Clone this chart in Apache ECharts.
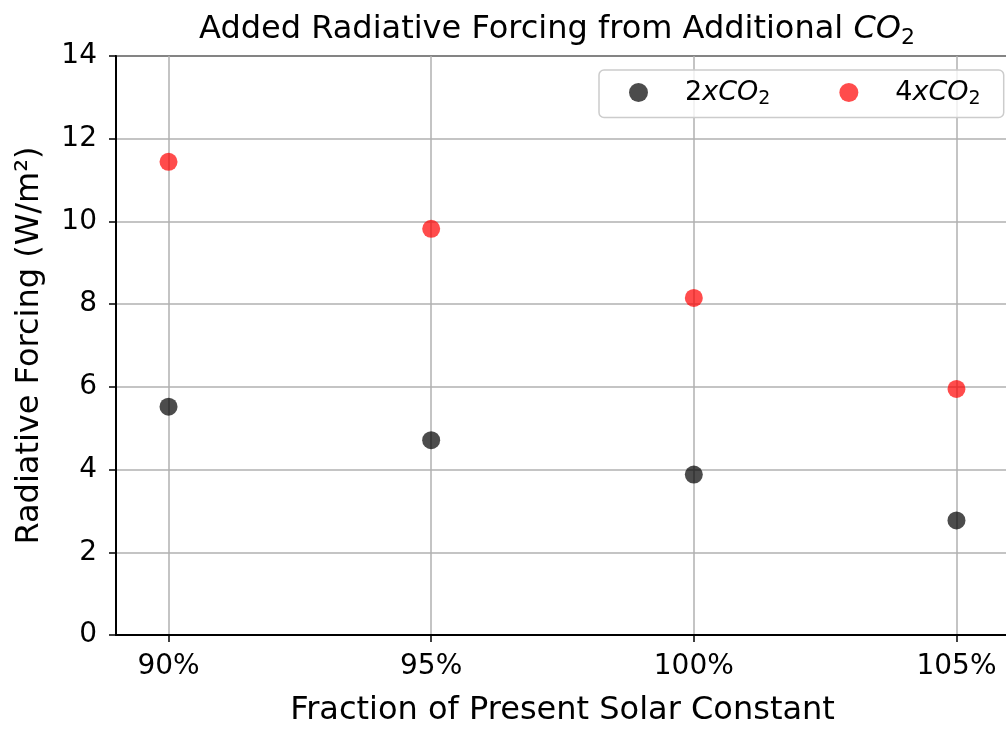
<!DOCTYPE html>
<html><head><meta charset="utf-8">
<script src="https://cdn.jsdelivr.net/npm/echarts@6/dist/echarts.min.js"></script>
<style>html,body{margin:0;padding:0;background:#fff}#c{width:1006px;height:730px}</style>
</head><body><div id="c"></div>
<script>
const solarFractions = [90, 95, 100, 105];
const forcing2x = [5.52, 4.71, 3.88, 2.77];
const forcing4x = [11.44, 9.82, 8.15, 5.95];
const yTicks = [0, 2, 4, 6, 8, 10, 12, 14];

const FONT = 'DejaVu Sans';
const chart = echarts.init(document.getElementById('c'));
chart.setOption({
  animation: false,
  title: {
    text: '{n|Added Radiative Forcing from Additional }{i|CO}{s|2}',
    left: 552, top: 6, textAlign: 'center',
    textStyle: {fontWeight: 'normal', rich: {
      n: {fontFamily: FONT, fontSize: 32, color: '#000'},
      i: {fontFamily: FONT, fontSize: 32, fontStyle: 'italic', color: '#000'},
      s: {fontFamily: FONT, fontSize: 22, color: '#000', padding: [16,0,0,0]}
    }}
  },
  legend: {
    orient: 'horizontal',
    left: 599, top: 70, width: 600,
    padding: [9, 23, 9, 30],
    itemGap: 69,
    itemWidth: 19, itemHeight: 19,
    backgroundColor: 'rgba(255,255,255,0.8)',
    borderColor: '#cccccc', borderWidth: 1.5, borderRadius: 5,
    icon: 'circle',
    formatter: function(name){ return '{n|' + name.charAt(0) + '}{i|xCO}{s|2}'; },
    textStyle: {padding: [0,0,0,32], rich: {
      n: {fontFamily: FONT, fontSize: 27, color: '#000'},
      i: {fontFamily: FONT, fontSize: 27, fontStyle: 'italic', color: '#000'},
      s: {fontFamily: FONT, fontSize: 19, color: '#000', padding: [13,0,0,0]}
    }}
  },
  grid: {left: 116, right: -3, top: 56, bottom: 95, outerBoundsMode: 'none', containLabel: false,
         show: true, borderColor: '#000', borderWidth: 2, backgroundColor: 'transparent'},
  xAxis: {
    type: 'value', min: 89, max: 106, interval: 5,
    name: 'Fraction of Present Solar Constant', nameLocation: 'middle', nameGap: 60,
    nameMoveOverlap: false,
    nameTextStyle: {fontFamily: FONT, fontSize: 32, color: '#000'},
    axisLine: {show: true, lineStyle: {color: '#000', width: 2}},
    axisTick: {show: true, length: 7, lineStyle: {color: '#000', width: 1.5}, customValues: solarFractions},
    axisLabel: {fontFamily: FONT, fontSize: 28, color: '#000', margin: 18, formatter: v => v + '%', customValues: solarFractions},
    splitLine: {show: true, lineStyle: {color: '#b0b0b0', width: 1.5}, customValues: solarFractions}
  },
  yAxis: {
    type: 'value', min: 0, max: 14, interval: 2,
    name: 'Radiative Forcing (W/m²)', nameLocation: 'middle', nameGap: 70,
    nameMoveOverlap: false,
    nameTextStyle: {fontFamily: FONT, fontSize: 32, color: '#000'},
    axisLine: {show: true, lineStyle: {color: '#000', width: 2}},
    axisTick: {show: true, length: 7, lineStyle: {color: '#000', width: 1.5}},
    axisLabel: {fontFamily: FONT, fontSize: 28, color: '#000', margin: 19, customValues: yTicks},
    splitLine: {show: true, lineStyle: {color: '#b0b0b0', width: 1.5}}
  },
  series: [
    {name: '2xCO2', type: 'scatter', symbolSize: 18,
     itemStyle: {color: 'rgba(0,0,0,0.7)', opacity: 1},
     data: solarFractions.map((x, k) => [x, forcing2x[k]])},
    {name: '4xCO2', type: 'scatter', symbolSize: 18,
     itemStyle: {color: 'rgba(255,0,0,0.7)', opacity: 1},
     data: solarFractions.map((x, k) => [x, forcing4x[k]])}
  ]
});
</script></body></html>
